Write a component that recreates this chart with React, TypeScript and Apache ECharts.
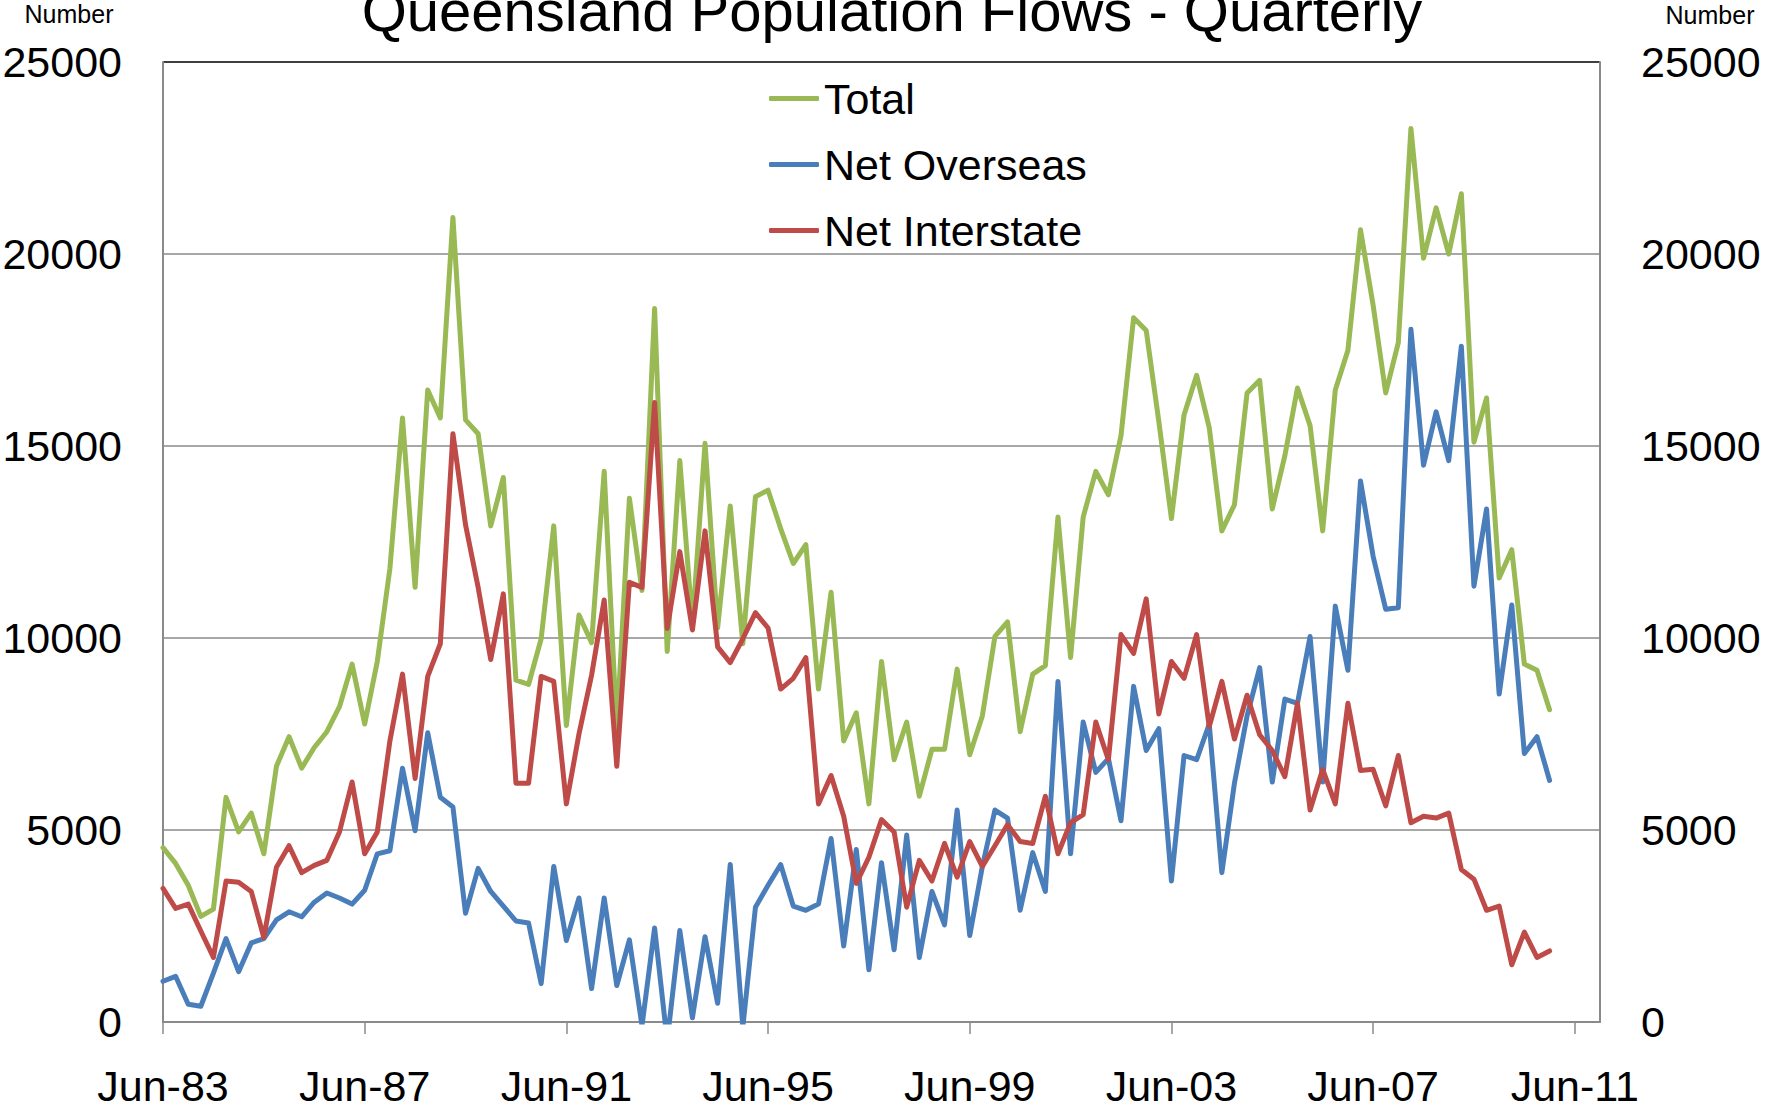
import React, { useEffect, useRef } from 'react';
import * as echarts from 'echarts';

// Quarterly categories Jun-83 ... Dec-11 (axis extends past last data point)
const QUARTER_MONTHS = ['Jun', 'Sep', 'Dec', 'Mar'];
const N_CATEGORIES = 115;
const categories: string[] = Array.from({ length: N_CATEGORIES }, (_, k) => {
  const y = (83 + Math.floor((k + 1) / 4)) % 100;
  return `${QUARTER_MONTHS[k % 4]}-${String(y).padStart(2, '0')}`;
});

const seriesNames = ['Total', 'Net Overseas', 'Net Interstate'];

const total = [
  4540, 4130, 3560, 2750, 2940, 5850, 4950, 5440, 4380, 6660,
  7430, 6610, 7150, 7560, 8210, 9320, 7760, 9390, 11810, 15730,
  11320, 16460, 15730, 20950, 15680, 15320, 12920, 14180, 8900, 8790,
  9980, 12920, 7720, 10600, 9880, 14340, 7640, 13640, 11240, 18580,
  9650, 14620, 10350, 15070, 10260, 13440, 9850, 13680, 13850, 12850,
  11940, 12430, 8670, 11190, 7320, 8050, 5680, 9390, 6830, 7810,
  5880, 7100, 7100, 9190, 6960, 7970, 10040, 10420, 7560, 9060,
  9280, 13150, 9490, 13150, 14340, 13730, 15270, 18340, 18010, 15640,
  13110, 15810, 16840, 15480, 12790, 13470, 16380, 16710, 13360, 14750,
  16510, 15530, 12790, 16460, 17490, 20630, 18670, 16380, 17690, 23270,
  19890, 21200, 20000, 21570, 15100, 16250, 11560, 12300, 9320, 9160,
  8130,
];

const netOverseas = [
  1060, 1190, 460, 410, 1270, 2170, 1310, 2060, 2170, 2660,
  2870, 2740, 3120, 3360, 3230, 3070, 3430, 4380, 4460, 6610,
  4980, 7530, 5850, 5600, 2830, 4000, 3400, 3020, 2630, 2580,
  1000, 4050, 2120, 3230, 870, 3230, 950, 2140, -100, 2450,
  -500, 2380, 110, 2220, 490, 4100, -130, 2990, 3560, 4100,
  3020, 2910, 3070, 4780, 1980, 4490, 1360, 4150, 1880, 4870,
  1680, 3400, 2530, 5520, 2250, 4050, 5520, 5310, 2910, 4410,
  3400, 8870, 4380, 7810, 6500, 6860, 5240, 8740, 7070, 7640,
  3670, 6940, 6830, 7760, 3890, 6220, 7970, 9230, 6250, 8410,
  8300, 10040, 6250, 10830, 9160, 14090, 12130, 10750, 10790, 18040,
  14500, 15890, 14620, 17600, 11350, 13360, 8540, 10860, 6990, 7430,
  6290,
];

const netInterstate = [
  3480, 2960, 3070, 2370, 1680, 3670, 3640, 3400, 2200, 4030,
  4590, 3890, 4080, 4210, 4950, 6250, 4380, 4950, 7320, 9060,
  6340, 9000, 9850, 15320, 12950, 11320, 9440, 11150, 6220, 6220,
  9000, 8870, 5680, 7500, 9030, 10990, 6660, 11450, 11320, 16130,
  10250, 12250, 10210, 12790, 9770, 9360, 9980, 10660, 10260, 8670,
  8950, 9490, 5680, 6420, 5360, 3610, 4290, 5270, 4950, 2990,
  4210, 3670, 4650, 3770, 4700, 4050, 4590, 5140, 4700, 4650,
  5880, 4380, 5190, 5400, 7810, 6830, 10090, 9600, 11020, 8020,
  9390, 8950, 10090, 7690, 8870, 7370, 8510, 7480, 7070, 6390,
  8300, 5520, 6580, 5680, 8300, 6550, 6580, 5630, 6940, 5190,
  5360, 5310, 5440, 3970, 3720, 2910, 3020, 1490, 2340, 1680,
  1850,
];

const Y_MIN = 0;
const Y_MAX = 25000;
const Y_INTERVAL = 5000;

const FONT = '"Liberation Sans", Arial, Helvetica, sans-serif';
const GREEN = '#98B954';
const BLUE = '#4A7EBB';
const RED = '#BE4B48';
const GRID_GRAY = '#8a8a8a';

export default function App() {
  const ref = useRef<HTMLDivElement | null>(null);

  useEffect(() => {
    if (!ref.current) return;
    const chart = echarts.init(ref.current, undefined, { renderer: 'svg' });

    const yAxisCommon = {
      type: 'value' as const,
      min: Y_MIN,
      max: Y_MAX,
      interval: Y_INTERVAL,
      axisLine: { show: true, lineStyle: { color: GRID_GRAY, width: 2 } },
      axisTick: { show: false },
      axisLabel: {
        fontSize: 43,
        color: '#000',
        fontFamily: FONT,
        margin: 41,
        formatter: (v: number) => String(v),
      },
    };

    const lineSeries = (name: string, data: number[], color: string) => ({
      name,
      type: 'line' as const,
      data,
      symbol: 'none',
      showSymbol: false,
      color,
      itemStyle: { color },
      lineStyle: { color, width: 5, join: 'round', cap: 'round' },
      yAxisIndex: 0,
      clip: true,
    });

    chart.setOption({
      animation: false,
      backgroundColor: '#ffffff',
      grid: {
        left: 163,
        top: 62,
        width: 1437,
        height: 960,
        containLabel: false,
        outerBoundsMode: 'none',
      },
      legend: {
        orient: 'vertical',
        left: 764,
        top: 72,
        icon: 'roundRect',
        itemWidth: 50,
        itemHeight: 5,
        itemGap: 23,
        data: seriesNames,
        textStyle: { fontSize: 43, color: '#000', fontFamily: FONT },
      },
      xAxis: {
        type: 'category',
        data: categories,
        boundaryGap: false,
        axisLine: { show: true, lineStyle: { color: GRID_GRAY, width: 2 } },
        axisTick: { show: true, interval: 15, length: 12, lineStyle: { color: GRID_GRAY, width: 1.5 } },
        axisLabel: { interval: 15, fontSize: 43, color: '#000', fontFamily: FONT, margin: 42 },
        splitLine: { show: false },
      },
      yAxis: [
        {
          ...yAxisCommon,
          position: 'left',
          splitLine: {
            show: true,
            lineStyle: {
              color: [GRID_GRAY, GRID_GRAY, GRID_GRAY, GRID_GRAY, GRID_GRAY, '#000000'],
              width: 1.5,
            },
          },
        },
        {
          ...yAxisCommon,
          position: 'right',
          splitLine: { show: false },
        },
      ],
      graphic: [
        {
          type: 'text',
          x: 892,
          y: 10,
          style: {
            text: 'Queensland Population Flows - Quarterly',
            fontSize: 58,
            fontFamily: FONT,
            fill: '#000',
            align: 'center',
            verticalAlign: 'middle',
          },
        },
        {
          type: 'text',
          x: 69,
          y: 14,
          style: {
            text: 'Number',
            fontSize: 25,
            fontFamily: FONT,
            fill: '#000',
            align: 'center',
            verticalAlign: 'middle',
          },
        },
        {
          type: 'text',
          x: 1710,
          y: 15,
          style: {
            text: 'Number',
            fontSize: 25,
            fontFamily: FONT,
            fill: '#000',
            align: 'center',
            verticalAlign: 'middle',
          },
        },
      ],
      series: [
        lineSeries(seriesNames[0], total, GREEN),
        lineSeries(seriesNames[1], netOverseas, BLUE),
        lineSeries(seriesNames[2], netInterstate, RED),
      ],
    });

    return () => {
      chart.dispose();
    };
  }, []);

  return (
    <div
      ref={ref}
      style={{ position: 'fixed', left: 0, top: 0, width: 1768, height: 1109, background: '#fff' }}
    />
  );
}
